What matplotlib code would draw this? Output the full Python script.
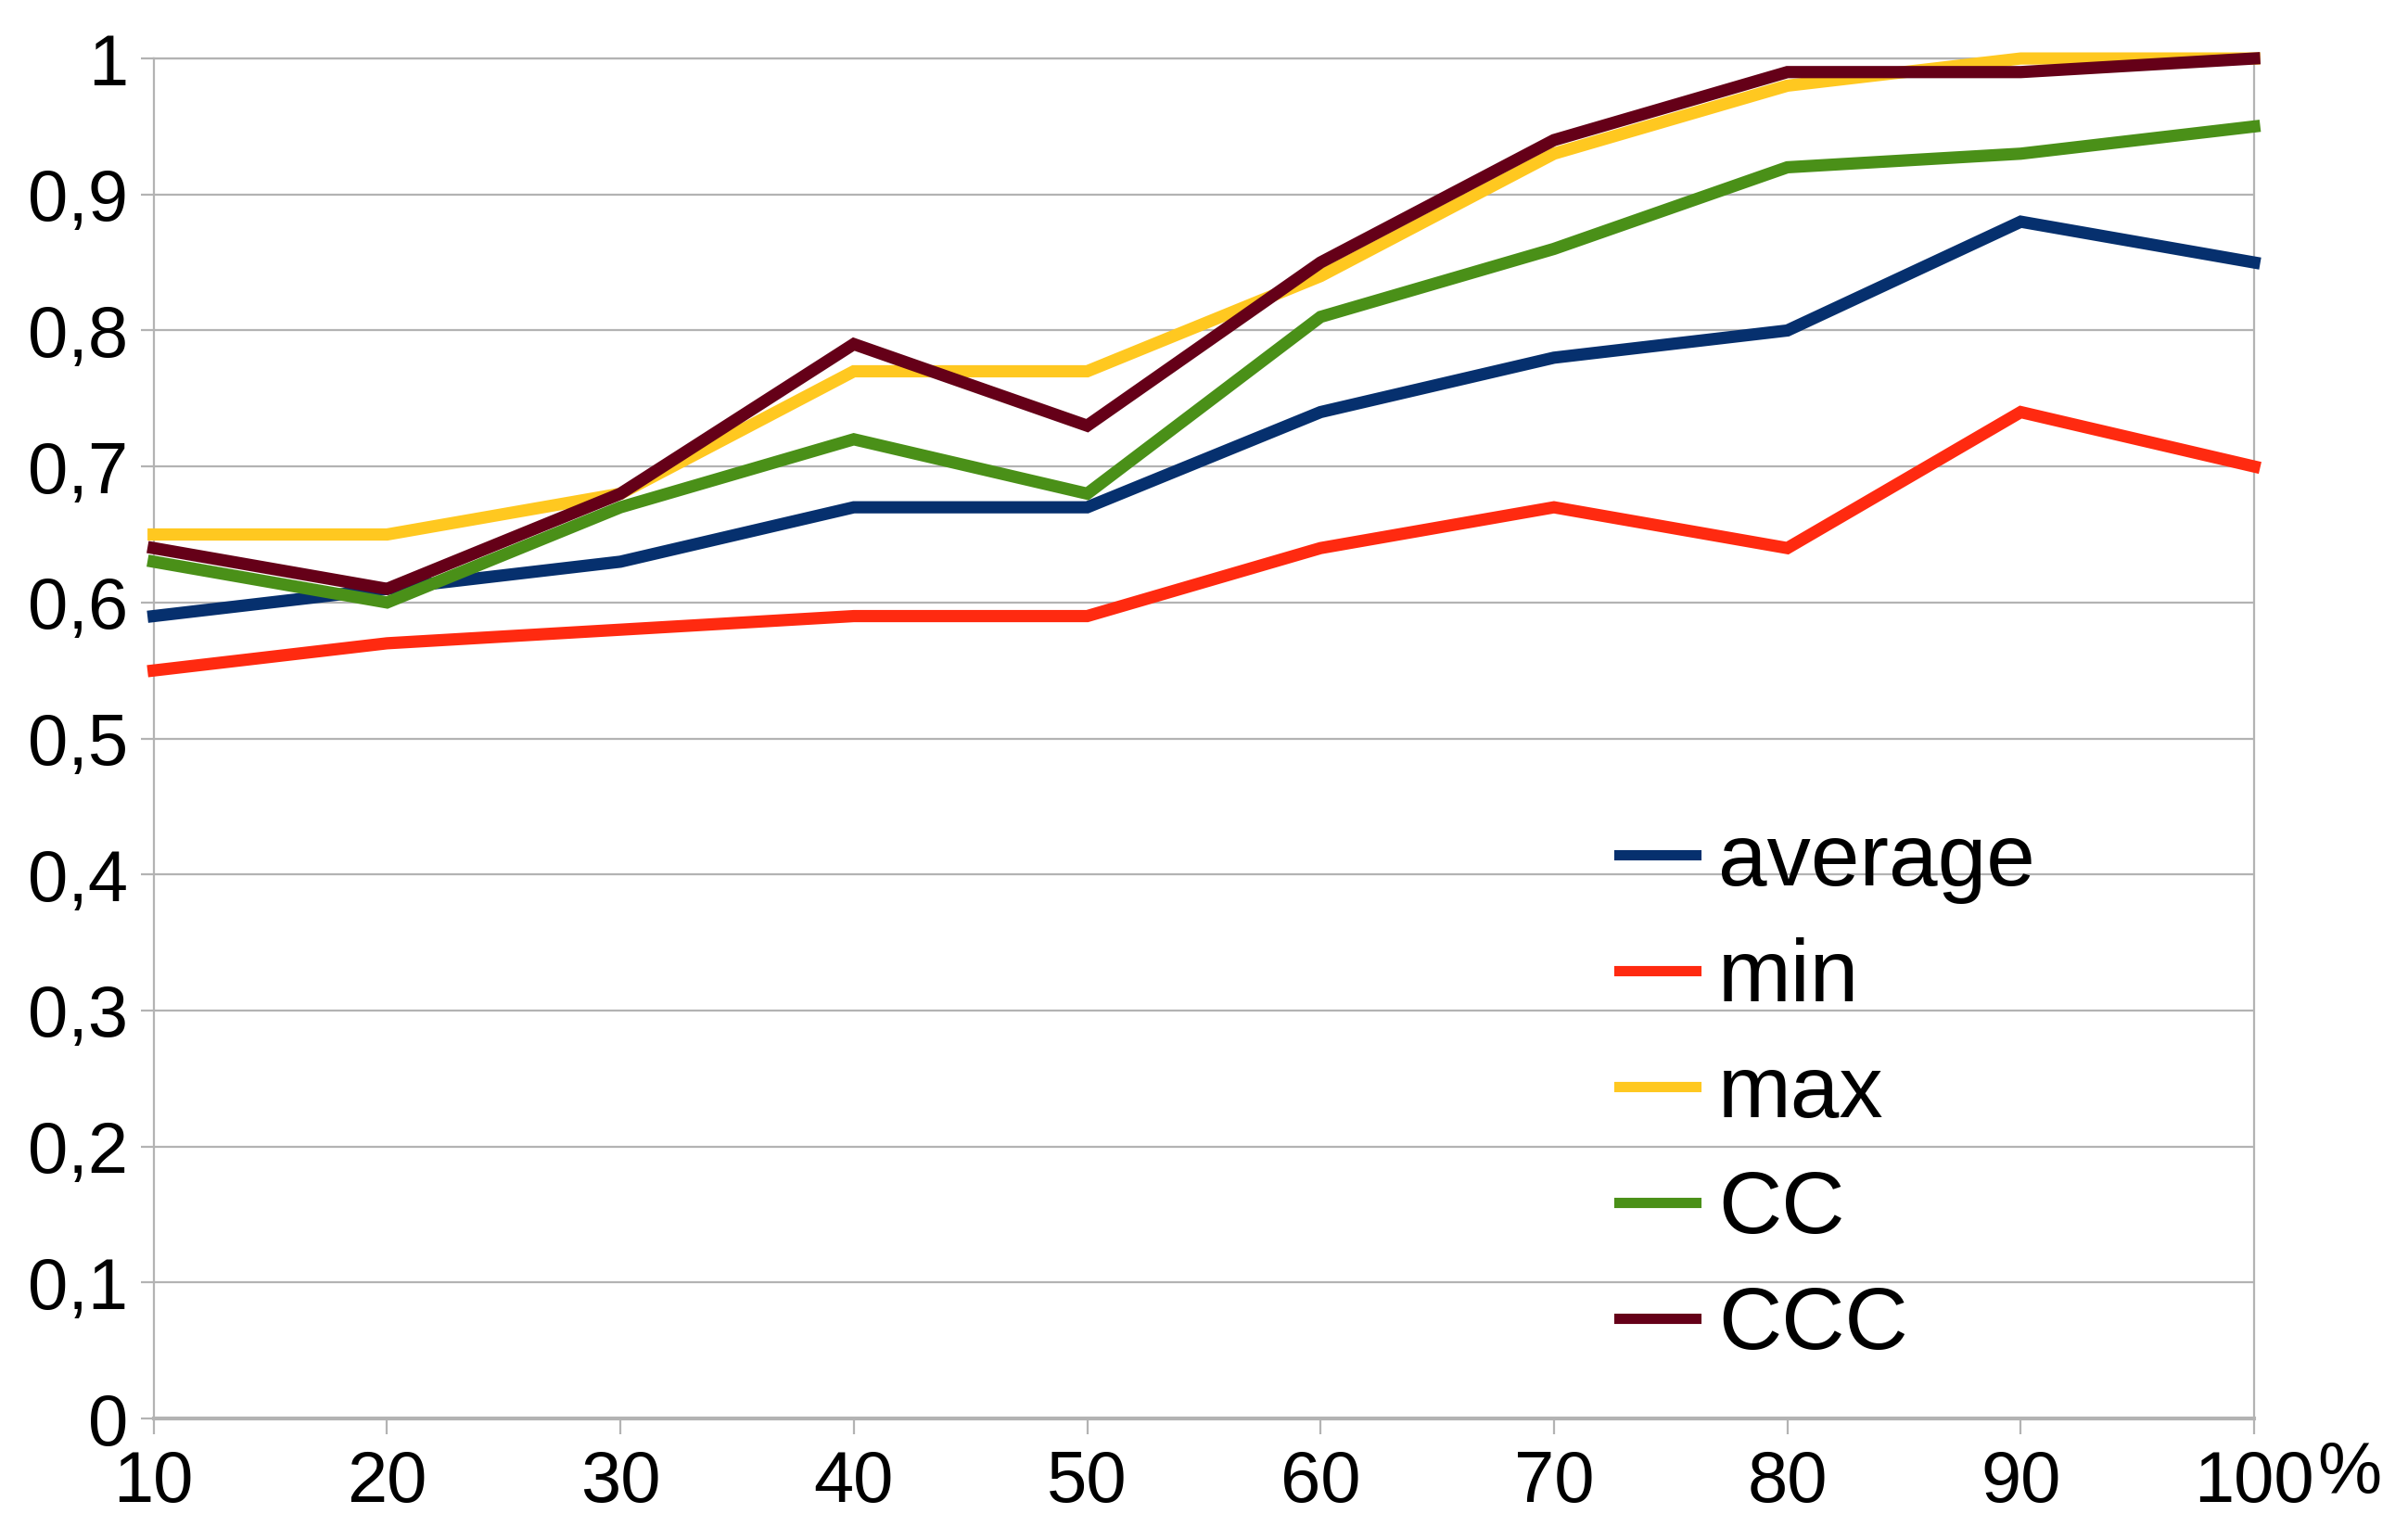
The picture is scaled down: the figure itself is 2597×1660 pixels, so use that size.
import matplotlib
matplotlib.use("Agg")
import matplotlib.pyplot as plt
from matplotlib.ticker import FixedLocator

plt.rcParams['font.family'] = ['Liberation Sans', 'DejaVu Sans']

x_values = [10, 20, 30, 40, 50, 60, 70, 80, 90, 100]
x_labels = ['10', '20', '30', '40', '50', '60', '70', '80', '90', '100']
y_ticks = [0, 0.1, 0.2, 0.3, 0.4, 0.5, 0.6, 0.7, 0.8, 0.9, 1.0]
y_labels = ['0', '0,1', '0,2', '0,3', '0,4', '0,5', '0,6', '0,7', '0,8', '0,9', '1']

series_names = ['average', 'min', 'max', 'CC', 'CCC']
average = [0.59, 0.61, 0.63, 0.67, 0.67, 0.74, 0.78, 0.80, 0.88, 0.85]
minimum = [0.55, 0.57, 0.58, 0.59, 0.59, 0.64, 0.67, 0.64, 0.74, 0.70]
maximum = [0.65, 0.65, 0.68, 0.77, 0.77, 0.84, 0.93, 0.98, 1.00, 1.00]
cc = [0.63, 0.60, 0.67, 0.72, 0.68, 0.81, 0.86, 0.92, 0.93, 0.95]
ccc = [0.64, 0.61, 0.68, 0.79, 0.73, 0.85, 0.94, 0.99, 0.99, 1.00]
colors = ['#06306e', '#ff2a10', '#ffc820', '#4a9018', '#650018']

fig = plt.figure(figsize=(25.97, 16.60), dpi=100)
ax = fig.add_axes([0.0638, 0.0783, 0.8723, 0.8837])

data = [average, minimum, maximum, cc, ccc]
draw_order = [0, 1, 3, 4, 2]
lines = {}
for i in draw_order:
    ln, = ax.plot(x_values, data[i], color=colors[i], lw=9.5, solid_joinstyle='miter',
                  label=series_names[i], zorder=3 + i * 0.1, clip_on=False)
    lines[i] = ln

ax.set_xlim(10, 100)
ax.set_ylim(0, 1)
ax.xaxis.set_major_locator(FixedLocator(x_values))
ax.set_xticklabels(x_labels)
ax.set_yticks(y_ticks)
ax.set_yticklabels(y_labels)

ax.grid(axis='y', color='#b3b3b3', lw=1.6, zorder=0)
for s in ax.spines.values():
    s.set_color('#b3b3b3')
    s.set_linewidth(1.6)
ax.spines['bottom'].set_linewidth(3)

ax.tick_params(axis='x', length=12, width=1.6, color='#b3b3b3', labelsize=56, pad=12, labelcolor='black')
ax.tick_params(axis='y', length=10, width=1.6, color='#b3b3b3', labelsize=56, pad=10, labelcolor='black')

ax.annotate('%', xy=(100, 0), xycoords=('data', 'axes fraction'), xytext=(74, -17),
            textcoords='offset points', fontsize=56, ha='center', va='top')

handles = [lines[i] for i in range(5)]
leg = ax.legend(handles, series_names, loc='lower left', bbox_to_anchor=(0.681, 0.012),
                frameon=False, fontsize=68, handlelength=0.88, handletextpad=0.25,
                labelspacing=0.38, borderaxespad=0)
for lh in leg.get_lines():
    lh.set_linewidth(8)

fig.savefig('out.png', dpi=100)
